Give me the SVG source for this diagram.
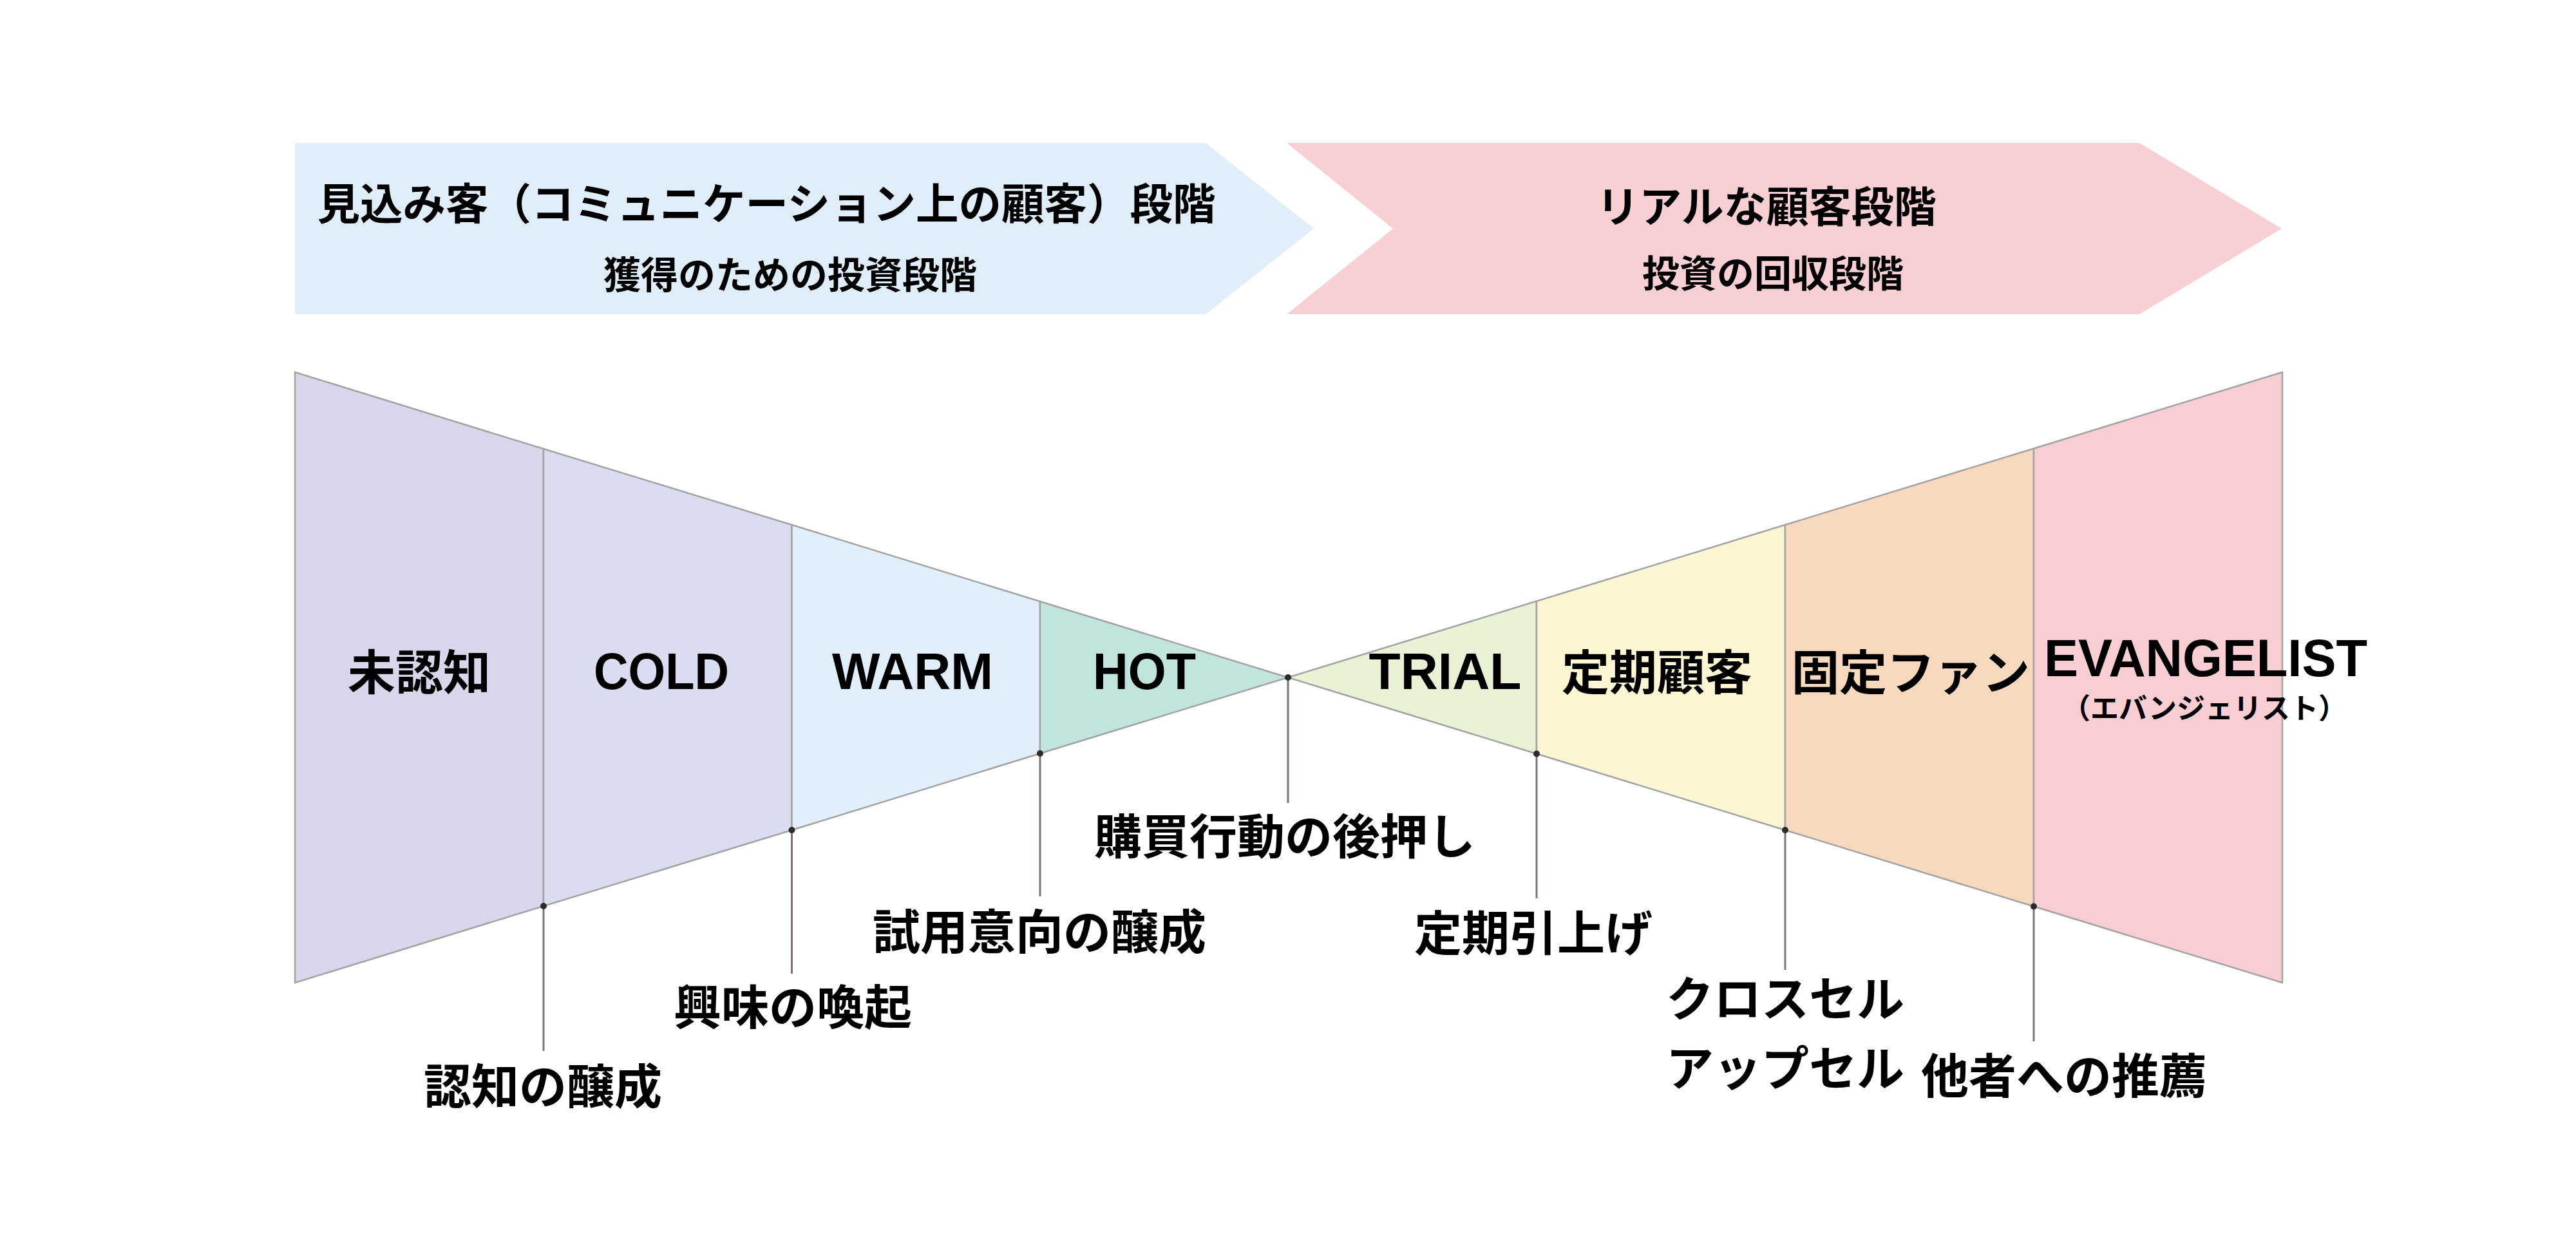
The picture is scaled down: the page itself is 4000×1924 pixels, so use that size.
<svg xmlns="http://www.w3.org/2000/svg" width="4000" height="1924" viewBox="0 0 4000 1924">
<style>
.jp{font-family:"Noto Sans CJK JP","Liberation Sans",sans-serif;font-weight:bold;fill:#000;text-anchor:middle}
.en{font-family:"Liberation Sans","Noto Sans CJK JP",sans-serif;font-weight:bold;fill:#000;text-anchor:middle}
.seg{stroke:#a3a3a3;stroke-width:2.5;stroke-linejoin:miter}
.lead{stroke:#7d7378;stroke-width:3;fill:none}
.dot{fill:#2b2b2b}
</style>
<rect x="0" y="0" width="4000" height="1924" fill="#ffffff"/>
<g id="phase-prospect">
<polygon points="458,222 1872,222 2040,355 1872,488 458,488" fill="#dfeef9"/>
<text class="jp" x="1190" y="341" font-size="66.5">見込み客（コミュニケーション上の顧客）段階</text>
<text class="jp" x="1227" y="448" font-size="58">獲得のための投資段階</text>
</g>
<g id="phase-real">
<polygon points="1998,222 3322,222 3543,355 3322,488 1998,488 2163,355" fill="#f8cfd2"/>
<text class="jp" x="2743" y="345" font-size="66">リアルな顧客段階</text>
<text class="jp" x="2753" y="446" font-size="58">投資の回収段階</text>
</g>
<g id="seg-unaware">
<polygon class="seg" points="458,578 844,697 844,1407 458,1526" fill="#d9d5ea"/>
<text class="jp" x="651" y="1071" font-size="74">未認知</text>
</g>
<g id="seg-cold">
<polygon class="seg" points="844,697 1229.5,815 1229.5,1289 844,1407" fill="#dadcef"/>
<text class="en" x="1027" y="1070" font-size="79" textLength="210" lengthAdjust="spacingAndGlyphs">COLD</text>
</g>
<g id="seg-warm">
<polygon class="seg" points="1229.5,815 1615,934 1615,1170 1229.5,1289" fill="#e1effa"/>
<text class="en" x="1417" y="1070" font-size="79" textLength="250" lengthAdjust="spacingAndGlyphs">WARM</text>
</g>
<g id="seg-hot">
<polygon class="seg" points="1615,934 2000,1052 1615,1170" fill="#bfe5dc"/>
<text class="en" x="1777" y="1070" font-size="79" textLength="160" lengthAdjust="spacingAndGlyphs">HOT</text>
</g>
<g id="seg-trial">
<polygon class="seg" points="2000,1052 2386,933.5 2386,1170.5" fill="#e9f2d5"/>
<text class="en" x="2244" y="1070" font-size="79" textLength="237" lengthAdjust="spacingAndGlyphs">TRIAL</text>
</g>
<g id="seg-regular">
<polygon class="seg" points="2386,933.5 2772,815 2772,1289 2386,1170.5" fill="#fdf6d3"/>
<text class="jp" x="2573" y="1071" font-size="74">定期顧客</text>
</g>
<g id="seg-fan">
<polygon class="seg" points="2772,815 3158,696.5 3158,1407.5 2772,1289" fill="#f9d9be"/>
<text class="jp" x="2967" y="1071" font-size="74">固定ファン</text>
</g>
<g id="seg-evangelist">
<polygon class="seg" points="3158,696.5 3544,578 3544,1526 3158,1407.5" fill="#f8ced2"/>
<text class="en" x="3425" y="1050" font-size="81" textLength="502" lengthAdjust="spacingAndGlyphs">EVANGELIST</text>
<text class="jp" x="3423" y="1116" font-size="44" font-weight="normal">（エバンジェリスト）</text>
</g>
<g id="connectors">
<line class="lead" x1="844" y1="1407" x2="844" y2="1632"/>
<line class="lead" x1="1229.5" y1="1289" x2="1229.5" y2="1512"/>
<line class="lead" x1="1615" y1="1170" x2="1615" y2="1392"/>
<line class="lead" x1="2000" y1="1052" x2="2000" y2="1247"/>
<line class="lead" x1="2386" y1="1170.5" x2="2386" y2="1395"/>
<line class="lead" x1="2772" y1="1289" x2="2772" y2="1506"/>
<line class="lead" x1="3158" y1="1407.5" x2="3158" y2="1617"/>
<circle class="dot" cx="844" cy="1407" r="5"/>
<circle class="dot" cx="1229.5" cy="1289" r="5"/>
<circle class="dot" cx="1615" cy="1170" r="5"/>
<circle class="dot" cx="2000" cy="1052" r="5"/>
<circle class="dot" cx="2386" cy="1170.5" r="5"/>
<circle class="dot" cx="2772" cy="1289" r="5"/>
<circle class="dot" cx="3158" cy="1407.5" r="5"/>
</g>
<g id="label-awareness"><text class="jp" x="843" y="1714" font-size="74">認知の醸成</text></g>
<g id="label-interest"><text class="jp" x="1231" y="1591" font-size="74">興味の喚起</text></g>
<g id="label-trial-intent"><text class="jp" x="1614" y="1474" font-size="74">試用意向の醸成</text></g>
<g id="label-purchase"><text class="jp" x="1995" y="1326" font-size="74">購買行動の後押し</text></g>
<g id="label-regular"><text class="jp" x="2381" y="1476" font-size="74">定期引上げ</text></g>
<g id="label-cross"><text class="jp" x="2587" y="1578" font-size="74" style="text-anchor:start">クロスセル</text><text class="jp" x="2587" y="1686" font-size="74" style="text-anchor:start">アップセル</text></g>
<g id="label-referral"><text class="jp" x="3205" y="1698" font-size="74">他者への推薦</text></g>
</svg>
